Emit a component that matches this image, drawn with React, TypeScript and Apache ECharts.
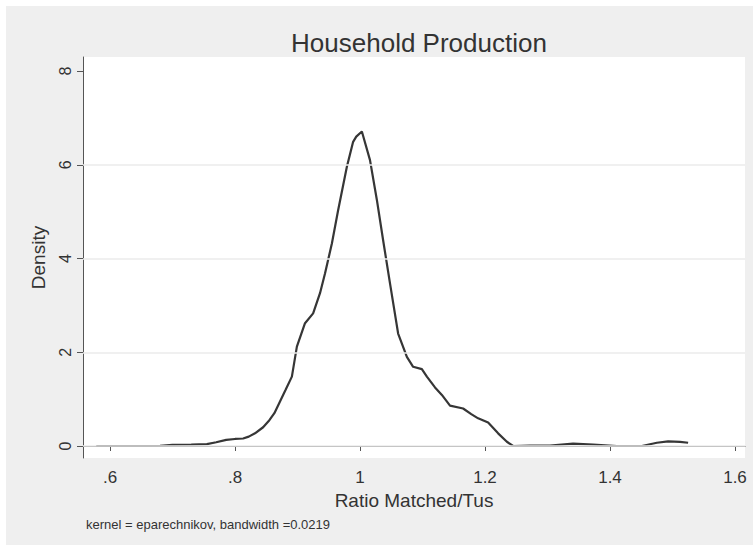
import React, { useEffect, useRef } from "react";
import * as echarts from "echarts";

const chartTitle = "Household Production";
const xAxisTitle = "Ratio Matched/Tus";
const yAxisTitle = "Density";
const noteText = "kernel = eparechnikov, bandwidth =0.0219";

const xTickValues = [0.6, 0.8, 1, 1.2, 1.4, 1.6];
const yTickValues = [0, 2, 4, 6, 8];
const yGridValues = [0, 2, 4, 6];

const ratioValues = [
  0.578, 0.62, 0.66, 0.68, 0.7, 0.73, 0.755, 0.77, 0.786, 0.8, 0.813, 0.822,
  0.832, 0.845, 0.855, 0.863, 0.872, 0.881, 0.891, 0.899, 0.912, 0.925, 0.936,
  0.944, 0.955, 0.965, 0.979, 0.989, 0.994, 1.003, 1.016, 1.027, 1.037, 1.048,
  1.061, 1.075, 1.085, 1.099, 1.107, 1.12, 1.131, 1.144, 1.165, 1.178, 1.189,
  1.205, 1.221, 1.235, 1.245, 1.272, 1.304, 1.341, 1.373, 1.411, 1.451, 1.475,
  1.493, 1.512, 1.525,
];
const densityValues = [
  0, 0, 0, 0.005, 0.025, 0.03, 0.04, 0.08, 0.13, 0.15, 0.16, 0.2, 0.27, 0.4,
  0.55, 0.7, 0.95, 1.2, 1.48, 2.12, 2.62, 2.83, 3.26, 3.68, 4.32, 5.03, 5.96,
  6.49, 6.6, 6.71, 6.1, 5.25, 4.39, 3.47, 2.4, 1.9, 1.69, 1.64, 1.48, 1.25,
  1.09, 0.86, 0.8, 0.68, 0.59, 0.5, 0.27, 0.09, 0, 0.01, 0.01, 0.05, 0.03, 0,
  0, 0.07, 0.1, 0.09, 0.07,
];

const FONT = "'Liberation Sans', Arial, Helvetica, sans-serif";
const TEXT = "#333333";
const AXIS = "#555555";

export default function App() {
  const ref = useRef<HTMLDivElement>(null);

  useEffect(() => {
    if (!ref.current) return;
    const chart = echarts.init(ref.current, undefined, { renderer: "svg" });
    const lineData = ratioValues.map((x, i) => [x, densityValues[i]]);

    chart.setOption({
      animation: false,
      backgroundColor: "#ffffff",
      textStyle: { fontFamily: FONT },
      title: {
        text: chartTitle,
        left: 414,
        textAlign: "center",
        top: 25,
        textStyle: {
          fontFamily: FONT,
          fontSize: 26,
          fontWeight: "normal",
          color: TEXT,
        },
      },
      graphic: [
        {
          type: "rect",
          z: -10,
          silent: true,
          shape: { x: 6, y: 6, width: 747, height: 539 },
          style: { fill: "#efefef" },
        },
        {
          type: "text",
          x: 86,
          y: 524,
          silent: true,
          style: {
            text: noteText,
            fontFamily: FONT,
            fontSize: 13,
            fill: TEXT,
            verticalAlign: "middle",
          },
        },
      ],
      grid: {
        left: 83,
        right: 8,
        top: 57,
        bottom: 96,
        show: true,
        backgroundColor: "#ffffff",
        borderWidth: 0,
      },
      xAxis: {
        type: "value",
        min: 0.5568,
        max: 1.616,
        name: xAxisTitle,
        nameLocation: "middle",
        nameGap: 31,
        nameTextStyle: { fontFamily: FONT, fontSize: 19, color: TEXT },
        axisLine: { show: true, lineStyle: { color: AXIS, width: 1 } },
        axisTick: {
          show: true,
          length: 5,
          customValues: xTickValues,
          lineStyle: { color: AXIS },
        },
        axisLabel: {
          customValues: xTickValues,
          margin: 11,
          fontFamily: FONT,
          fontSize: 17,
          color: TEXT,
          formatter: (v: number) => {
            const s = String(v);
            return s.startsWith("0.") ? s.slice(1) : s;
          },
        },
        splitLine: { show: false },
      },
      yAxis: {
        type: "value",
        min: -0.256,
        max: 8.3,
        name: yAxisTitle,
        nameLocation: "middle",
        nameGap: 35,
        nameRotate: 90,
        nameTextStyle: { fontFamily: FONT, fontSize: 19, color: TEXT },
        axisLine: { show: true, lineStyle: { color: AXIS, width: 1 } },
        axisTick: {
          show: true,
          length: 6,
          customValues: yTickValues,
          lineStyle: { color: AXIS },
        },
        axisLabel: {
          customValues: yTickValues,
          rotate: 90,
          margin: 10,
          fontFamily: FONT,
          fontSize: 16,
          color: TEXT,
        },
        splitLine: { show: false },
      },
      series: [
        {
          type: "line",
          z: 1,
          data: [[ratioValues[0], densityValues[0]]],
          showSymbol: false,
          silent: true,
          lineStyle: { width: 0, opacity: 0 },
          markLine: {
            silent: true,
            symbol: "none",
            label: { show: false },
            lineStyle: { color: "#ebebeb", width: 1.5, type: "solid" },
            data: yGridValues.map((v) => ({ yAxis: v })),
          },
        },
        {
          type: "line",
          z: 3,
          data: lineData,
          showSymbol: false,
          smooth: false,
          lineStyle: { color: "#363636", width: 2.2 },
        },
      ],
    });

    return () => chart.dispose();
  }, []);

  return (
    <div
      ref={ref}
      style={{
        position: "absolute",
        left: 0,
        top: 0,
        width: 753,
        height: 554,
      }}
    />
  );
}
